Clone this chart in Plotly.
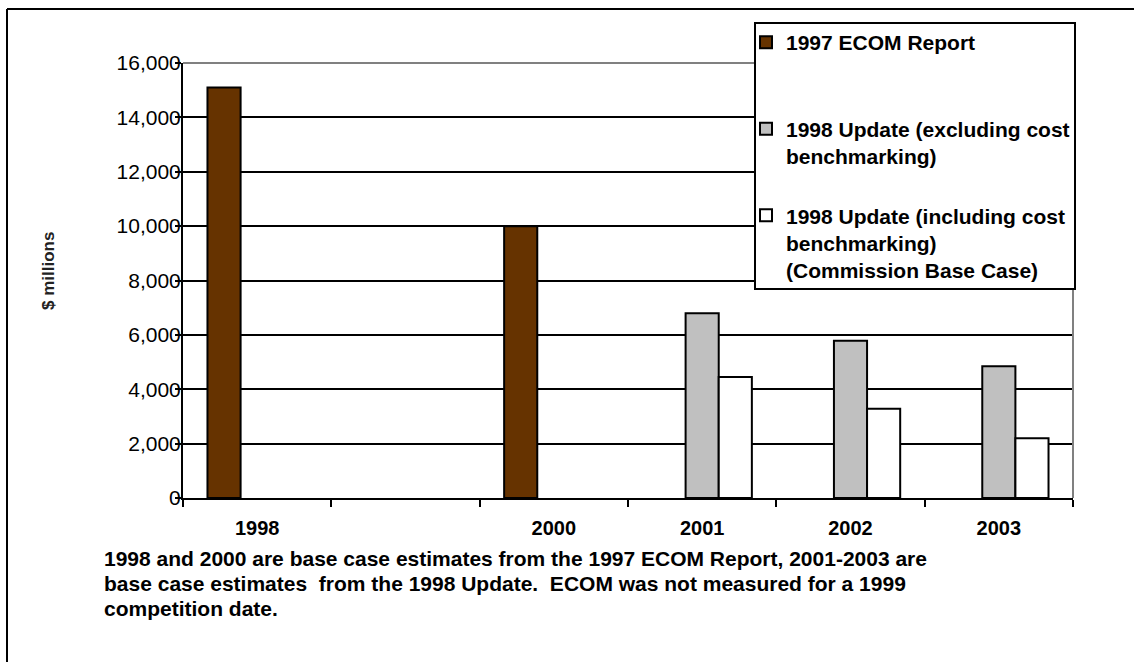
import plotly.graph_objects as go

# ---- data ----
years_ecom = [1998, 2000]
ecom_1997 = [15100, 10000]
years_update = [2001, 2002, 2003]
update_excl = [6800, 5780, 4850]
update_incl = [4450, 3280, 2200]
label_years = [1998, 2000, 2001, 2002, 2003]
all_years = [1998, 1999, 2000, 2001, 2002, 2003]
y_ticks = [0, 2000, 4000, 6000, 8000, 10000, 12000, 14000, 16000]
series_names = [
    "1997 ECOM Report<br> ",
    "1998 Update (excluding cost<br>benchmarking)",
    "1998 Update (including cost<br>benchmarking)<br>(Commission Base Case)",
]
footnote_lines = [
    "1998 and 2000 are base case estimates from the 1997 ECOM Report, 2001-2003 are",
    "base case estimates  from the 1998 Update.  ECOM was not measured for a 1999",
    "competition date.",
]

W, H = 1134, 662
L, R, T, B = 183, 1073, 63, 498
pw, ph = R - L, B - T

def px_x(p):
    return (p - L) / pw

def px_y(p):
    return (B - p) / ph

BOLD = "Liberation Sans, Arial, sans-serif"

fig = go.Figure()
fig.add_trace(go.Bar(x=years_ecom, y=ecom_1997, name=series_names[0], legendgroup="a",
                     marker=dict(color="#663300", line=dict(color="black", width=2))))
fig.add_trace(go.Bar(x=years_update, y=update_excl, name=series_names[1], legendgroup="b",
                     marker=dict(color="#C0C0C0", line=dict(color="black", width=2))))
fig.add_trace(go.Bar(x=years_update, y=update_incl, name=series_names[2], legendgroup="c",
                     marker=dict(color="#FFFFFF", line=dict(color="black", width=2))))

boundaries = [y - 0.5 for y in all_years] + [all_years[-1] + 0.5]

fig.update_layout(
    width=W, height=H,
    margin=dict(l=L, r=W - R, t=T, b=H - B, pad=0),
    paper_bgcolor="white", plot_bgcolor="white",
    barmode="group", bargap=0.33, bargroupgap=0,
    showlegend=True,
    legend=dict(
        x=px_x(746), y=px_y(22), xanchor="left", yanchor="top",
        bgcolor="rgba(0,0,0,0)", borderwidth=0,
        font=dict(family=BOLD, size=21, color="black", weight="bold"),
        tracegroupgap=29, valign="top", traceorder="grouped",
    ),
    xaxis=dict(
        type="linear", range=[boundaries[0], boundaries[-1]],
        tickmode="array", tickvals=label_years, ticktext=[f"<b>{y}</b>" for y in label_years],
        ticks="outside", ticklen=0, tickcolor="black",
        minor=dict(tickmode="array", tickvals=boundaries, ticks="outside", ticklen=7,
                   tickcolor="black", tickwidth=2, showgrid=False),
        showgrid=False, zeroline=False,
        showline=True, linecolor="black", linewidth=2,
        tickfont=dict(family=BOLD, size=20, color="black"),
        ticklabelstandoff=11,
    ),
    yaxis=dict(
        range=[0, 16000], tickmode="array", tickvals=y_ticks,
        tickformat=",d",
        ticks="outside", ticklen=6, tickwidth=2, tickcolor="black",
        showgrid=True, gridcolor="black", gridwidth=2,
        zeroline=False, showline=True, linecolor="black", linewidth=2,
        tickfont=dict(family="Liberation Sans, Arial, sans-serif", size=21, color="black"),
        ticklabelstandoff=-10,
    ),
)

shapes = [
    # grey top border of plot area
    dict(type="line", xref="paper", yref="paper", x0=0, x1=1, y0=1, y1=1,
         line=dict(color="#808080", width=2), layer="above"),
    # grey right border of plot area
    dict(type="line", xref="paper", yref="paper", x0=1, x1=1, y0=0, y1=1,
         line=dict(color="#808080", width=2), layer="above"),
    # legend box
    dict(type="rect", xref="paper", yref="paper", x0=px_x(755), x1=px_x(1075),
         y0=px_y(289), y1=px_y(23), fillcolor="white",
         line=dict(color="black", width=2), layer="above"),
    # outer frame: top and left
    dict(type="line", xref="paper", yref="paper", x0=px_x(7), x1=px_x(1134), y0=px_y(9), y1=px_y(9),
         line=dict(color="black", width=2), layer="above"),
    dict(type="line", xref="paper", yref="paper", x0=px_x(7), x1=px_x(7), y0=px_y(9), y1=px_y(662),
         line=dict(color="black", width=2), layer="above"),
]
fig.update_layout(shapes=shapes)

annotations = [
    dict(text="<b>$ millions</b>", x=px_x(48), y=px_y(271), xref="paper", yref="paper",
         textangle=-90, showarrow=False, xanchor="center", yanchor="middle",
         font=dict(family=BOLD, size=17, color="#222222")),
]
for i, line in enumerate(footnote_lines):
    annotations.append(dict(text=f"<b>{line}</b>", x=px_x(102), y=px_y(558 + 25 * i),
                            xref="paper", yref="paper", showarrow=False,
                            xanchor="left", yanchor="middle", align="left",
                            font=dict(family=BOLD, size=21, color="black")))
fig.update_layout(annotations=annotations)

fig.write_html("out.html", config={"displayModeBar": False},
               post_script="document.body.style.margin='0px';document.body.style.padding='0px';")
